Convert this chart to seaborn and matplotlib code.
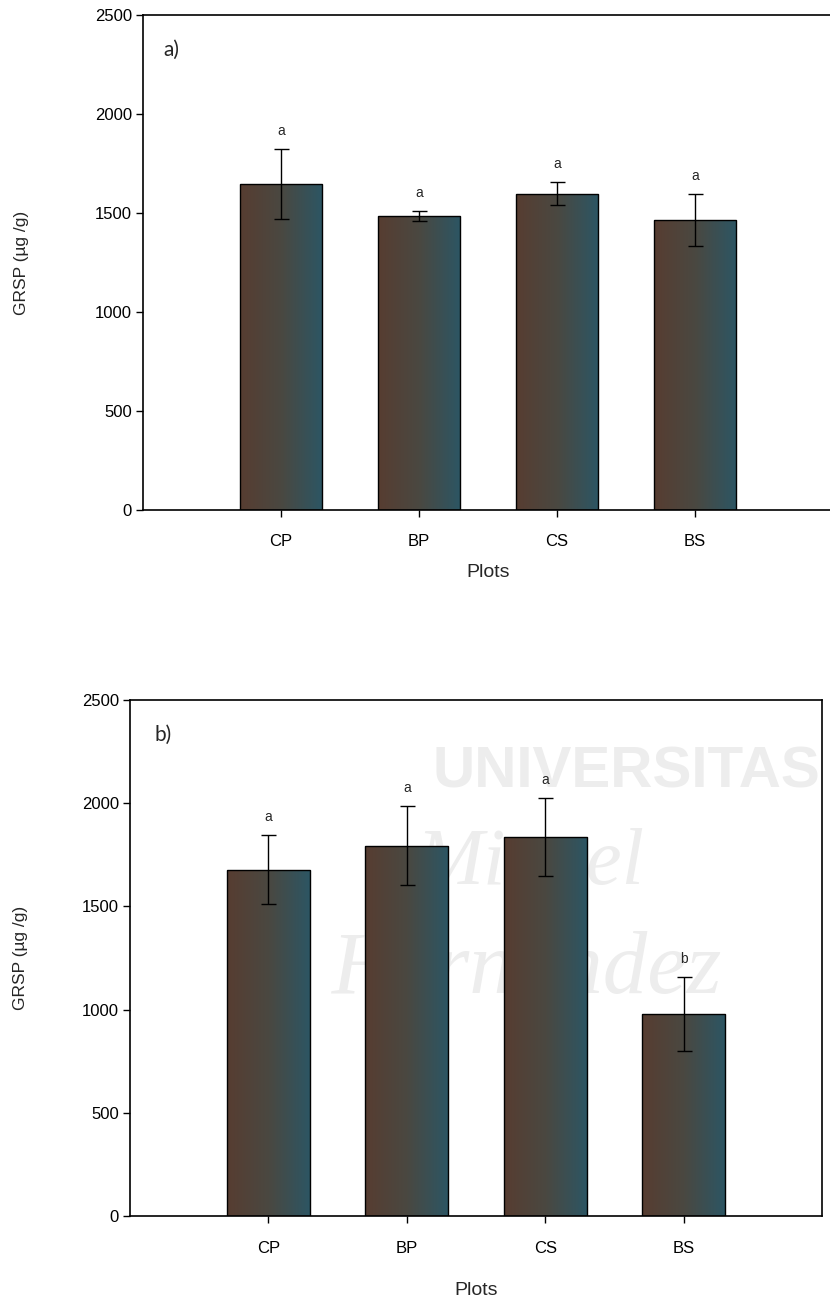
import numpy as np
import pandas as pd
import matplotlib
matplotlib.use("Agg")
import matplotlib.pyplot as plt
from matplotlib.colors import LinearSegmentedColormap
import seaborn as sns

# ---- data ----
categories = ["CP", "BP", "CS", "BS"]
grsp_a = [1646, 1485, 1598, 1465]
err_a = [177, 27, 60, 131]
letters_a = ["a", "a", "a", "a"]
grsp_b = [1678, 1794, 1836, 980]
err_b = [168, 190, 189, 180]
letters_b = ["a", "a", "a", "b"]
yticks = [0, 500, 1000, 1500, 2000, 2500]

sns.set_theme(style="white")
plt.rcParams["font.family"] = ["Liberation Sans", "DejaVu Sans"]

fig = plt.figure(figsize=(8.3, 13.04), dpi=100)
ax_a = fig.add_axes([0.1723, 0.6089, 0.8313, 0.3796])
ax_b = fig.add_axes([0.1566, 0.0675, 0.8337, 0.3957])

cmap = LinearSegmentedColormap.from_list("bar", ["#573d31", "#4a4841", "#2c5664"])
grad = np.linspace(0, 1, 256).reshape(1, -1)


def panel(ax, vals, errs, letters, tag, tagpos, ylabelpad):
    df = pd.DataFrame({"Plots": categories, "GRSP": vals})
    sns.barplot(data=df, x="Plots", y="GRSP", order=categories, ax=ax,
                width=0.6, color="#4a4841", edgecolor="black", linewidth=1.0,
                errorbar=None)
    for p in ax.patches:
        x0, y0 = p.get_x(), p.get_y()
        w, h = p.get_width(), p.get_height()
        im = ax.imshow(grad, cmap=cmap, aspect="auto",
                       extent=[x0, x0 + w, y0, y0 + h], zorder=2)
        im.set_clip_path(p)
        p.set_facecolor("none")
        p.set_zorder(3)
    ax.set_xlim(-1, len(categories))
    ax.set_ylim(0, 2500)
    xs = np.arange(len(categories))
    ax.errorbar(xs, vals, yerr=errs, fmt="none", ecolor="black",
                elinewidth=1.0, capsize=5.4, capthick=1.0, zorder=4)
    for x, v, e, l in zip(xs, vals, errs, letters):
        ax.annotate(l, (x, v + e), xytext=(0, 13), textcoords="offset points",
                    ha="center", va="center", fontsize=10, zorder=5)
    ax.set_yticks(yticks)
    ax.tick_params(axis="both", which="both", direction="out", length=5,
                   width=1, colors="black", labelsize=12, pad=3,
                   bottom=True, left=True)
    ax.set_ylabel("GRSP (µg /g)", fontsize=12.5, labelpad=ylabelpad)
    for s in ax.spines.values():
        s.set_color("black")
        s.set_linewidth(1.2)
    ax.text(tagpos[0], tagpos[1], tag, transform=ax.transAxes,
            fontsize=15, family=["Lato", "DejaVu Sans"], va="center", ha="left")


panel(ax_a, grsp_a, err_a, letters_a, "a)", (0.03, 0.929), 47)
ax_a.tick_params(axis="x", pad=12)
ax_a.set_xlabel("Plots", fontsize=14, labelpad=11)

panel(ax_b, grsp_b, err_b, letters_b, "b)", (0.036, 0.932), 39)
ax_b.tick_params(axis="x", pad=13)
ax_b.set_xlabel("Plots", fontsize=14, labelpad=19)

# faint watermark of the source document (behind the bars)
wm = dict(color="#ededed", zorder=0.5, transform=fig.transFigure,
          ha="center", va="center")
ax_b.text(0.755, 0.4075, "UNIVERSITAS", fontsize=42, weight="bold",
          family="Liberation Sans", **wm)
ax_b.text(0.64, 0.337, "Miguel", fontsize=58, style="italic",
          family="Liberation Serif", **wm)
ax_b.text(0.635, 0.255, "Hernández", fontsize=64, style="italic",
          family="Liberation Serif", **wm)

fig.savefig("out.png", dpi=100)
